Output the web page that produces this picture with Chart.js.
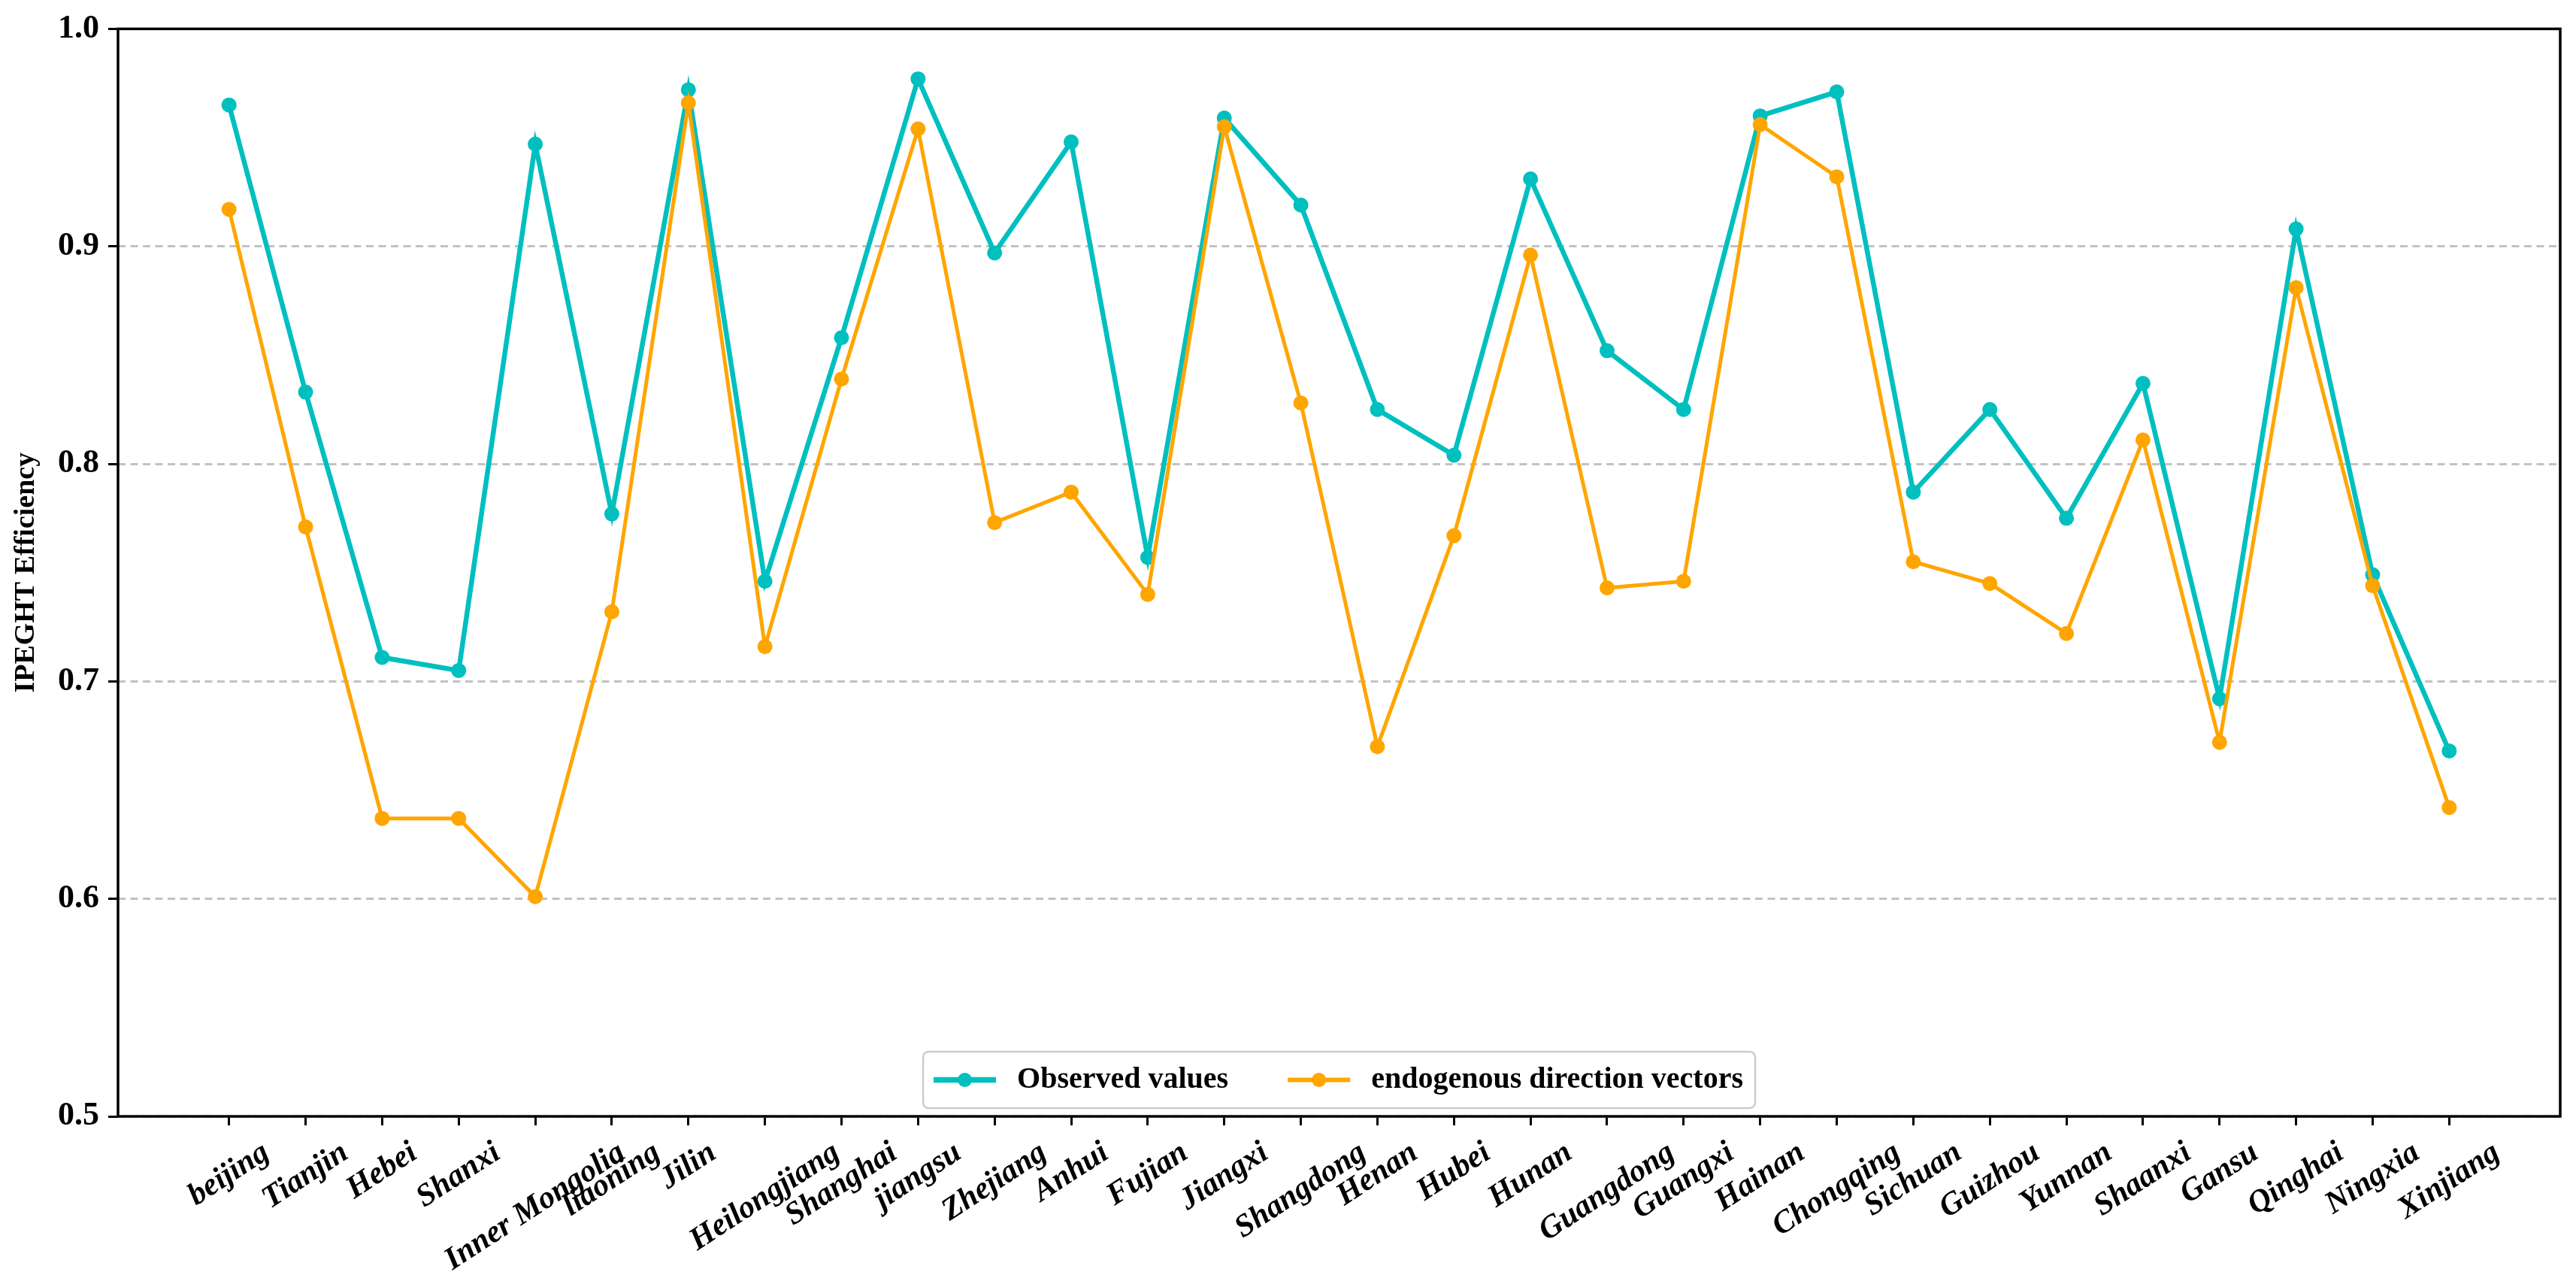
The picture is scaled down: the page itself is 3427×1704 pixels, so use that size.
<!DOCTYPE html>
<html>
<head>
<meta charset="utf-8">
<script src="https://cdn.jsdelivr.net/npm/chart.js@4"></script>
<style>
  html, body { margin: 0; padding: 0; background: #fff; }
  canvas { display: block; }
</style>
</head>
<body>
<canvas id="efficiency" width="3427" height="1704"></canvas>
<script>
const provinces = ['beijing', 'Tianjin', 'Hebei', 'Shanxi', 'Inner Mongolia', 'liaoning', 'Jilin',
  'Heilongjiang', 'Shanghai', 'jiangsu', 'Zhejiang', 'Anhui', 'Fujian', 'Jiangxi', 'Shangdong',
  'Henan', 'Hubei', 'Hunan', 'Guangdong', 'Guangxi', 'Hainan', 'Chongqing', 'Sichuan', 'Guizhou',
  'Yunnan', 'Shaanxi', 'Gansu', 'Qinghai', 'Ningxia', 'Xinjiang'];

const observed = [0.965, 0.833, 0.711, 0.705, 0.947, 0.777, 0.972, 0.746, 0.858, 0.977,
  0.897, 0.948, 0.757, 0.959, 0.919, 0.825, 0.804, 0.931, 0.852, 0.825,
  0.960, 0.971, 0.787, 0.825, 0.775, 0.837, 0.692, 0.908, 0.749, 0.668];

const endogenous = [0.917, 0.771, 0.637, 0.637, 0.601, 0.732, 0.966, 0.716, 0.839, 0.954,
  0.773, 0.787, 0.740, 0.955, 0.828, 0.670, 0.767, 0.896, 0.743, 0.746,
  0.956, 0.932, 0.755, 0.745, 0.722, 0.811, 0.672, 0.881, 0.744, 0.642];

const yTicks = [0.5, 0.6, 0.7, 0.8, 0.9, 1.0];

const serif = '"Liberation Serif", "Times New Roman", serif';
const LABEL_ANGLE = 33;

// matplotlib-ish frame round the axes
const frame = {
  id: 'frame',
  afterDraw(chart) {
    const { ctx, chartArea: a } = chart;
    ctx.save();
    ctx.strokeStyle = '#000';
    ctx.lineWidth = 3.5;
    ctx.strokeRect(a.left, a.top, a.right - a.left, a.bottom - a.top);
    ctx.restore();
  }
};

// rotated x labels centred under their ticks
const xLabels = {
  id: 'xLabels',
  afterDraw(chart) {
    const { ctx, chartArea: a } = chart;
    const xs = chart.scales.x;
    const rad = LABEL_ANGLE * Math.PI / 180;
    const size = 42;
    ctx.save();
    ctx.font = 'italic bold ' + size + 'px ' + serif;
    ctx.fillStyle = '#000';
    ctx.textAlign = 'center';
    ctx.textBaseline = 'middle';
    provinces.forEach((name, i) => {
      const w = ctx.measureText(name).width;
      const h = size * 0.85;
      const boxH = w * Math.sin(rad) + h * Math.cos(rad);
      const cx = xs.getPixelForValue(i);
      const cy = a.bottom + 30 + boxH / 2;
      ctx.save();
      ctx.translate(cx, cy);
      ctx.rotate(-rad);
      ctx.fillText(name, 0, 0);
      ctx.restore();
    });
    ctx.restore();
  }
};

// legend inside the plot, lower centre
const legendBox = {
  id: 'legendBox',
  afterDraw(chart) {
    const { ctx, chartArea: a } = chart;
    ctx.save();
    ctx.font = 'bold 40px ' + serif;
    const items = chart.data.datasets.map(ds => ({
      label: ds.label, color: ds.borderColor, lw: ds.borderWidth, w: ctx.measureText(ds.label).width
    }));
    const handle = 83, gapText = 28, gapItem = 79, padL = 14, padR = 16, h = 75;
    let total = padL + padR;
    items.forEach((it, i) => { total += handle + gapText + it.w + (i ? gapItem : 0); });
    const x0 = (a.left + a.right) / 2 - total / 2;
    const y0 = a.bottom - 11 - h;
    ctx.beginPath();
    ctx.roundRect(x0, y0, total, h, 7);
    ctx.fillStyle = 'rgba(255,255,255,0.85)';
    ctx.fill();
    ctx.strokeStyle = '#cccccc';
    ctx.lineWidth = 2.5;
    ctx.stroke();
    const cy = y0 + h / 2;
    let x = x0 + padL;
    items.forEach((it, i) => {
      if (i) x += gapItem;
      ctx.strokeStyle = it.color;
      ctx.lineWidth = it.lw + 1;
      ctx.beginPath();
      ctx.moveTo(x, cy);
      ctx.lineTo(x + handle, cy);
      ctx.stroke();
      ctx.fillStyle = it.color;
      ctx.beginPath();
      ctx.arc(x + handle / 2, cy, 9.5, 0, Math.PI * 2);
      ctx.fill();
      x += handle + gapText;
      ctx.fillStyle = '#000';
      ctx.textAlign = 'left';
      ctx.textBaseline = 'middle';
      ctx.fillText(it.label, x, cy);
      x += it.w;
    });
    ctx.restore();
  }
};

const ctx = document.getElementById('efficiency').getContext('2d');
new Chart(ctx, {
  type: 'line',
  data: {
    datasets: [{
      label: 'Observed values',
      data: observed.map((v, i) => ({ x: i, y: v })),
      borderColor: '#00BFBF',
      backgroundColor: '#00BFBF',
      pointBackgroundColor: '#00BFBF',
      borderWidth: 6.5,
      pointRadius: 10,
      pointBorderWidth: 0,
      tension: 0,
      order: 1
    }, {
      label: 'endogenous direction vectors',
      data: endogenous.map((v, i) => ({ x: i, y: v })),
      borderColor: '#FFA500',
      backgroundColor: '#FFA500',
      pointBackgroundColor: '#FFA500',
      borderWidth: 5,
      pointRadius: 10,
      pointBorderWidth: 0,
      tension: 0,
      order: 0
    }]
  },
  options: {
    responsive: false,
    devicePixelRatio: 1,
    animation: false,
    layout: {
      padding: { left: 0, right: 21, top: 33, bottom: 0 }
    },
    scales: {
      x: {
        type: 'linear',
        min: -1.45,
        max: provinces.length - 1 + 1.45,
        afterBuildTicks: (scale) => {
          scale.ticks = provinces.map((p, i) => ({ value: i }));
        },
        afterFit: (scale) => { scale.height = 219; },
        ticks: { display: false },
        grid: {
          drawOnChartArea: false,
          drawTicks: true,
          tickLength: 12,
          tickWidth: 3,
          tickColor: '#000'
        },
        border: { display: false }
      },
      y: {
        min: 0.5,
        max: 1.0,
        afterBuildTicks: (scale) => {
          scale.ticks = yTicks.map(v => ({ value: v }));
        },
        afterFit: (scale) => { scale.width = 157; },
        ticks: {
          color: '#000',
          padding: 12,
          font: { family: serif, size: 44, weight: 'bold' },
          callback: (v) => Number(v).toFixed(1)
        },
        grid: {
          color: '#c2c2c2',
          lineWidth: 3,
          tickLength: 13,
          tickWidth: 3,
          tickColor: '#000',
          tickBorderDash: []
        },
        border: { display: false, dash: [10, 6.5] },
        title: {
          display: true,
          text: 'IPEGHT Efficiency',
          color: '#000',
          padding: { top: 12, bottom: 0 },
          font: { family: serif, size: 38, weight: 'bold' }
        }
      }
    },
    plugins: {
      legend: { display: false },
      tooltip: { enabled: false }
    }
  },
  plugins: [frame, xLabels, legendBox]
});
</script>
</body>
</html>
